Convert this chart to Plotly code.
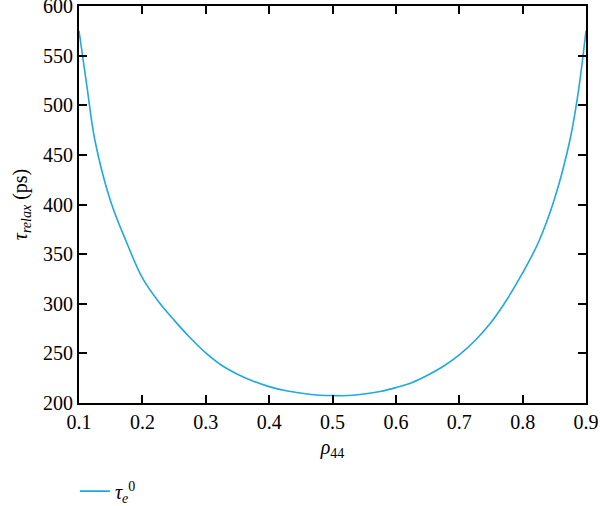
import plotly.graph_objects as go

rho = [0.100, 0.1125, 0.125, 0.150, 0.175, 0.200, 0.225, 0.250, 0.275, 0.300,
       0.325, 0.350, 0.375, 0.400, 0.425, 0.450, 0.475, 0.500, 0.525, 0.550,
       0.575, 0.600, 0.625, 0.650, 0.675, 0.700, 0.725, 0.750, 0.775, 0.800,
       0.825, 0.850, 0.875, 0.8875, 0.900]
tau = [575, 519, 465, 403, 362, 326, 302.5, 283.5, 266, 250.5,
       238, 229, 222, 216.5, 212.5, 210, 208, 207.5, 207.5, 209,
       211.5, 215.5, 220.5, 228, 237, 248.5, 263, 281, 304, 331,
       362, 405, 466, 512, 575]

x_ticks = [0.1, 0.2, 0.3, 0.4, 0.5, 0.6, 0.7, 0.8, 0.9]
y_ticks = [200, 250, 300, 350, 400, 450, 500, 550, 600]

font_family = "Liberation Serif, DejaVu Serif, serif"

fig = go.Figure()
fig.add_trace(go.Scatter(
    x=rho, y=tau, mode="lines",
    line=dict(color="#1fa9e1", width=1.6, shape="spline", smoothing=1.0),
    name="<i>τ</i><sub><i>e</i></sub><sup>0</sup>",
))

axis_common = dict(
    showline=True, linecolor="black", linewidth=2, mirror="ticks",
    ticks="inside", ticklen=8, tickwidth=2, tickcolor="black",
    showgrid=False, zeroline=False, automargin=False,
    ticklabeloverflow="allow",
    tickfont=dict(family=font_family, size=20, color="black"),
)

fig.update_layout(
    width=600, height=506,
    margin=dict(l=79, r=14, t=6, b=103, autoexpand=False),
    paper_bgcolor="white", plot_bgcolor="white",
    font=dict(family=font_family, size=20, color="black"),
    xaxis=dict(range=[0.1, 0.9], tickvals=x_ticks,
               ticktext=[f"{v:.1f}" for v in x_ticks],
               title=dict(text="<i>ρ</i><sub>44</sub>", standoff=8,
                          font=dict(family=font_family, size=20)),
               **axis_common),
    yaxis=dict(range=[200, 600], tickvals=y_ticks,
               ticktext=[str(v) for v in y_ticks],
               title=dict(text="<i>τ</i><sub><i>relax</i></sub> (ps)", standoff=10,
                          font=dict(family=font_family, size=20)),
               **axis_common),
    showlegend=True,
    legend=dict(x=-0.008, y=-0.222, xanchor="left", yanchor="middle",
                bgcolor="rgba(0,0,0,0)",
                font=dict(family=font_family, size=20)),
)

fig.write_html(
    "out.html",
    config={"displayModeBar": False},
    post_script=(
        "document.documentElement.style.margin='0';"
        "document.body.style.margin='0';document.body.style.padding='0';"
        "document.body.style.overflow='hidden';"
        "var d=document.getElementById('{plot_id}');"
        "d.style.position='fixed';d.style.top='0';d.style.left='0';"
    ),
)
